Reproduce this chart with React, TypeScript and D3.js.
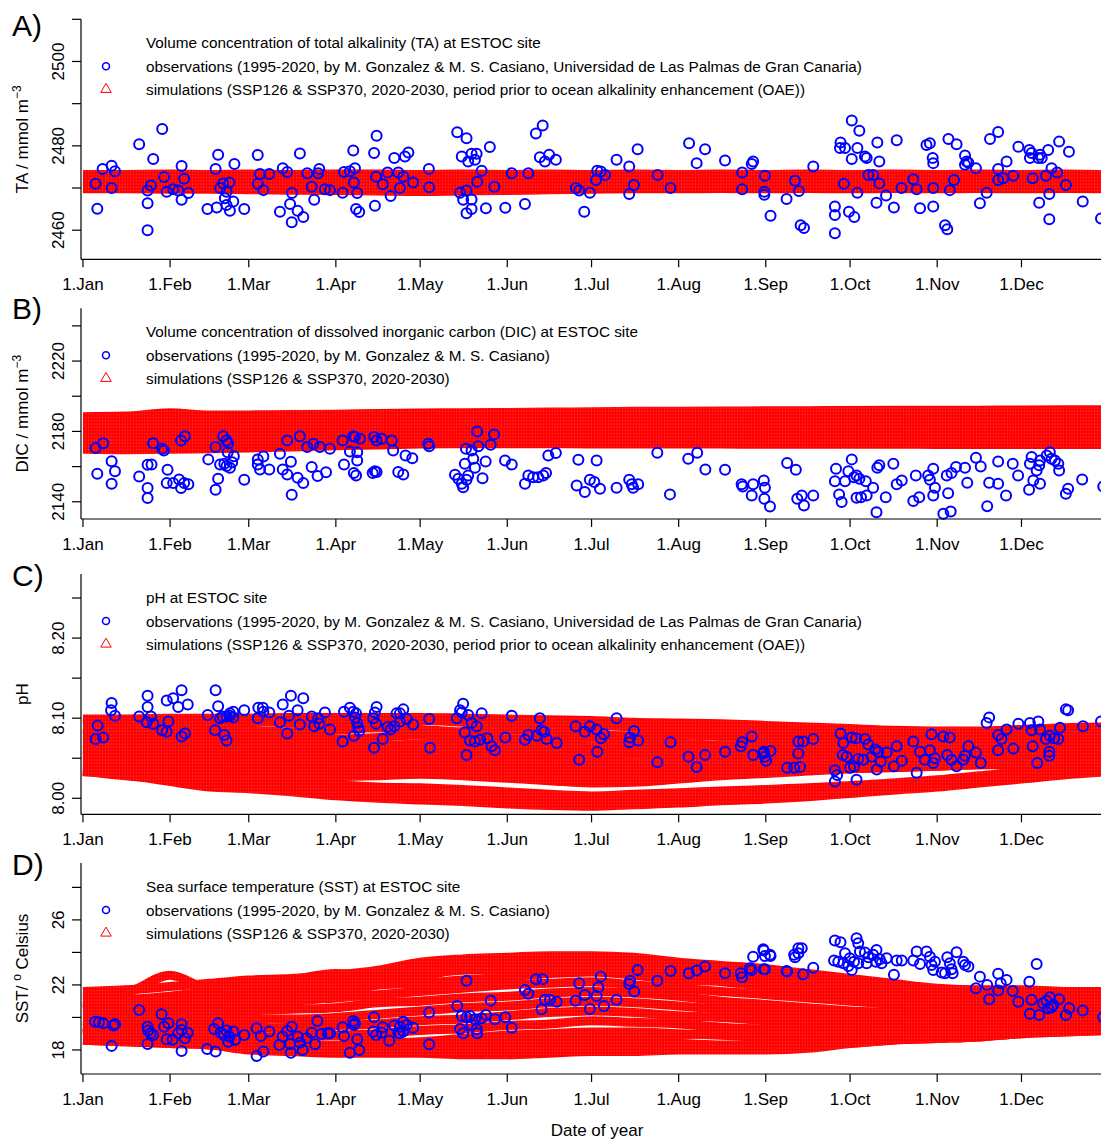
import React from "react";
import * as d3 from "d3";

const WIDTH = 1101;
const HEIGHT = 1140;
const FONT = "'Liberation Sans', Arial, Helvetica, sans-serif";
const BLUE = "#0000ff";
const RED = "#ff0000";

// Day-of-year positions of month starts and their labels
const MONTH_DAYS = [0, 31, 59, 90, 120, 151, 181, 212, 243, 273, 304, 334];
const MONTH_LABELS = ["1.Jan", "1.Feb", "1.Mar", "1.Apr", "1.May", "1.Jun", "1.Jul", "1.Aug", "1.Sep", "1.Oct", "1.Nov", "1.Dec"];

// Day-of-year nodes at which simulated tracks are sampled
const SIM_DAYS = [0, 15, 31, 45, 59, 74, 90, 105, 120, 135, 151, 166, 181, 196, 212, 227, 243, 258, 273, 288, 304, 319, 334, 349, 365];

// ---------------- A) total alkalinity ----------------
const taTicks = [2460, 2470, 2480, 2490, 2500, 2510];
const taLabels = [2460, 2480, 2500];
const taObs: number[][] = [
  [4.5,2471.0],[5.1,2465.1],[7.0,2474.5],[10.2,2475.3],[11.4,2474.0],[10.2,2470.0],[20.0,2480.4],[23.0,2469.4],[24.2,2470.6],[23.0,2466.4],[23.0,2460.0],[25.0,2476.9],[28.2,2484.0],[28.9,2472.6],[29.8,2469.1],[32.1,2469.7],[33.9,2469.4],[35.1,2475.2],[36.0,2472.2],[35.1,2467.2],[37.5,2468.8],[44.3,2465.0],[47.2,2474.5],[48.1,2477.9],[47.6,2465.4],[48.8,2470.0],[49.9,2471.1],[52.1,2471.3],[51.1,2469.1],[50.5,2467.6],[51.1,2466.0],[52.3,2464.6],[53.5,2466.8],[53.9,2475.7],[57.4,2465.0],[62.2,2477.8],[62.2,2471.0],[63.0,2473.3],[64.2,2469.5],[66.3,2473.3],[70.1,2464.4],[71.1,2474.7],[72.7,2473.8],[73.7,2466.2],[74.3,2461.9],[74.4,2468.8],[76.4,2464.6],[77.2,2478.2],[78.4,2463.1],[79.8,2473.5],[81.4,2470.3],[82.3,2467.2],[83.7,2473.5],[84.1,2474.5],[86.1,2469.7],[87.9,2469.5],[92.4,2468.9],[92.9,2473.8],[95.0,2474.0],[96.2,2478.9],[96.8,2474.7],[96.4,2471.3],[97.6,2468.8],[97.2,2465.0],[98.3,2464.3],[103.6,2478.3],[103.9,2465.8],[104.5,2482.4],[104.3,2472.7],[106.7,2470.9],[108.4,2473.7],[109.5,2468.1],[110.8,2477.1],[112.2,2473.7],
  [114.6,2477.5],[115.8,2478.4],[114.0,2472.7],[112.8,2470.0],[117.5,2471.3],[123.1,2474.5],[123.2,2470.2],[133.2,2483.2],[136.5,2481.8],[134.8,2477.5],[137.1,2476.3],[138.3,2478.1],[140.1,2478.1],[139.5,2476.7],[141.9,2474.1],[140.3,2471.5],[144.8,2479.7],[146.4,2470.3],[134.2,2468.9],[136.5,2469.4],[135.3,2467.2],[138.3,2467.3],[136.5,2464.0],[138.3,2465.0],[143.4,2465.2],[150.3,2465.3],[152.6,2473.5],[157.3,2466.2],[158.5,2473.5],[161.2,2482.9],[163.6,2484.8],[162.6,2477.3],[164.4,2476.3],[165.9,2477.9],[168.3,2476.7],[175.4,2470.0],[176.6,2469.4],[180.4,2468.9],[178.4,2464.4],[182.6,2471.9],[183.0,2474.1],[184.3,2473.9],[185.8,2473.1],[189.9,2476.7],[194.4,2475.1],[196.1,2470.7],[194.4,2468.6],[197.4,2479.2],[204.5,2473.1],[209.1,2470.0],[215.7,2480.6],[218.4,2475.9],[221.4,2479.2],[228.5,2476.5],[234.6,2473.7],[234.6,2469.7],[238.0,2475.7],[238.5,2476.3],
  [242.7,2472.9],[242.5,2469.1],[242.5,2468.4],[244.7,2463.4],[250.4,2467.4],[253.4,2471.7],[254.8,2469.3],[255.4,2461.2],[256.6,2460.5],[259.9,2475.1],[267.6,2465.6],[267.6,2463.6],[267.6,2459.3],[269.6,2480.8],[269.4,2479.5],[271.2,2479.5],[270.8,2471.0],[272.6,2464.4],[274.5,2463.1],[273.6,2486.0],[276.3,2483.6],[275.6,2479.5],[273.6,2476.9],[278.3,2477.5],[278.9,2477.1],[275.6,2468.9],[279.5,2473.1],[281.2,2473.1],[283.4,2471.1],[282.7,2480.8],[283.4,2476.3],[282.4,2466.5],[285.8,2468.2],[288.6,2465.4],[289.6,2481.3],[291.3,2470.0],[295.5,2472.1],[296.7,2469.7],[297.9,2465.2],[300.2,2480.2],[301.4,2480.6],[302.4,2477.1],[302.6,2475.9],[302.6,2470.0],[302.6,2465.6],[306.8,2461.2],[307.6,2460.2],[308.0,2481.6],[310.9,2480.4],[308.5,2469.5],[310.0,2471.9],[313.9,2477.7],[314.5,2476.3],[313.9,2475.5],[315.1,2476.0],[317.8,2474.7],[319.2,2466.4],[321.6,2468.9],[322.8,2481.6],[325.7,2483.3],[325.7,2474.5],[325.7,2471.9],[327.5,2472.3],[328.7,2476.3],[331.1,2472.9],[332.9,2479.8],[336.8,2479.0],[337.0,2477.1],[337.6,2478.3],[340.0,2477.1],[340.6,2477.9],[341.2,2477.1],[343.5,2479.0],[338.0,2472.3],[340.3,2466.5],[343.9,2468.6],[343.9,2462.6],[342.7,2472.9],[344.7,2474.7],[346.7,2473.7],[347.4,2481.0],[350.9,2478.6],[349.8,2470.7],[355.8,2466.8],[362.3,2462.8],
];
const taSim: number[][] = [
  [2473.2,2473.2,2473.3,2473.2,2473.3,2473.2,2473.3,2473.3,2473.2,2473.3,2473.2,2473.3,2473.2,2473.3,2473.2,2473.3,2473.2,2473.3,2473.2,2473.3,2473.2,2473.3,2473.2,2473.3,2473.2],
  [2472.5,2472.6,2472.5,2472.6,2472.5,2472.5,2472.6,2472.5,2472.4,2472.5,2472.5,2472.6,2472.5,2472.6,2472.5,2472.6,2472.5,2472.6,2472.5,2472.6,2472.5,2472.6,2472.5,2472.6,2472.5],
  [2471.8,2471.8,2471.9,2471.8,2471.8,2471.7,2471.8,2471.7,2471.6,2471.7,2471.8,2471.8,2471.9,2471.8,2471.9,2471.8,2471.9,2471.8,2471.9,2471.8,2471.9,2471.8,2471.9,2471.8,2471.9],
  [2471.1,2471.1,2471.2,2471.1,2471.0,2471.0,2470.9,2470.8,2470.8,2470.9,2471.0,2471.1,2471.1,2471.2,2471.1,2471.2,2471.1,2471.2,2471.1,2471.2,2471.1,2471.2,2471.1,2471.2,2471.1],
  [2470.4,2470.5,2470.4,2470.4,2470.3,2470.2,2470.1,2470.0,2470.0,2470.1,2470.2,2470.3,2470.4,2470.5,2470.4,2470.5,2470.4,2470.5,2470.5,2470.4,2470.5,2470.4,2470.5,2470.4,2470.5],
  [2470.0,2469.9,2470.0,2469.9,2469.8,2469.7,2469.6,2469.5,2469.5,2469.6,2469.7,2469.8,2469.9,2469.9,2470.0,2469.9,2470.0,2469.9,2470.0,2469.9,2470.0,2469.9,2470.0,2469.9,2470.0],
  [2469.8,2469.8,2469.7,2469.7,2469.6,2469.5,2469.4,2469.3,2469.2,2469.3,2469.4,2469.6,2469.7,2469.8,2469.8,2469.9,2469.8,2469.9,2469.8,2469.9,2469.8,2469.9,2469.8,2469.9,2469.8],
];

// ---------------- B) dissolved inorganic carbon ----------------
const dicTicks = [2140, 2160, 2180, 2200, 2220, 2240];
const dicLabels = [2140, 2180, 2220];
const dicObs: number[][] = [
  [4.5,2170.5],[7.2,2173.3],[5.1,2155.9],[10.2,2163.1],[11.4,2157.4],[10.2,2150.3],[20.0,2154.4],[23.0,2161.1],[24.4,2161.2],[23.0,2147.8],[23.0,2142.1],[25.0,2173.3],[28.2,2170.2],[28.8,2169.2],[30.1,2158.2],[29.8,2150.6],[32.1,2150.6],[34.2,2152.7],[34.9,2147.8],[36.0,2150.6],[37.5,2149.9],[34.9,2174.9],[36.3,2177.2],[44.6,2164.1],[47.2,2171.1],[48.1,2153.1],[47.2,2146.8],[48.8,2161.2],[50.3,2161.6],[51.1,2160.3],[52.3,2159.4],[53.1,2162.5],[53.7,2165.9],[49.9,2177.3],[51.1,2174.9],[51.7,2173.3],[51.5,2168.2],[57.4,2152.5],[62.2,2164.1],[62.2,2161.2],[64.2,2165.8],[63.0,2158.4],[66.3,2158.4],[70.1,2167.3],[71.1,2158.4],[72.7,2155.5],[74.0,2162.8],[74.3,2144.0],[76.4,2153.7],[78.4,2150.6],[72.7,2174.9],[77.2,2177.3],[79.8,2171.1],[81.4,2159.7],[82.0,2173.0],[83.5,2154.6],[84.3,2171.1],[86.5,2156.8],[87.9,2170.2],[92.4,2174.9],[92.9,2161.2],[95.0,2168.6],[96.2,2177.2],[96.8,2176.8],[97.6,2163.5],[97.2,2155.0],[97.6,2168.2],[98.6,2175.8],[96.4,2156.3],[103.1,2156.3],[103.9,2157.4],[104.5,2156.9],[103.6,2176.8],[104.5,2174.9],[106.3,2175.8],[109.9,2174.9],[110.4,2169.2],[112.2,2156.9],
  [114.0,2155.5],[114.8,2166.3],[117.2,2164.8],[122.9,2173.0],[123.2,2171.6],[132.4,2155.4],[133.6,2153.1],[134.8,2150.3],[135.3,2148.3],[136.5,2152.5],[137.1,2155.0],[135.9,2161.6],[136.3,2170.2],[138.3,2169.2],[138.9,2164.5],[139.5,2159.4],[140.3,2180.0],[140.7,2171.5],[142.2,2153.4],[143.3,2162.9],[145.1,2172.4],[146.3,2178.3],[150.2,2163.5],[152.6,2161.2],[157.3,2150.2],[158.5,2155.0],[160.2,2154.0],[162.0,2154.0],[163.8,2155.0],[164.8,2156.3],[165.6,2166.3],[168.3,2167.7],[175.7,2149.3],[176.3,2163.9],[178.6,2145.5],[180.4,2152.5],[182.0,2151.2],[182.8,2163.5],[184.0,2147.4],
  [189.9,2148.0],[194.4,2152.5],[195.3,2149.9],[195.8,2148.0],[197.6,2149.9],[204.4,2167.9],[208.9,2144.2],[215.4,2164.5],[218.6,2167.9],[221.5,2158.4],[228.5,2158.2],[234.4,2149.9],[234.8,2148.7],[238.0,2143.6],[238.5,2149.9],[242.3,2152.1],[242.7,2148.0],[242.5,2141.7],[244.5,2137.3],[250.6,2162.0],[253.7,2158.2],[254.2,2141.7],[255.8,2143.6],[256.6,2137.9],[259.9,2143.6],[268.0,2158.8],[267.6,2151.7],[269.1,2144.2],[270.0,2139.8],[271.2,2151.6],[273.6,2164.1],[272.4,2157.4],[274.4,2154.0],[275.3,2155.0],[276.3,2153.1],[278.6,2151.7],[275.3,2142.3],[276.9,2142.6],[278.9,2143.6],[281.2,2148.0],[282.4,2134.1],[282.7,2159.4],[283.4,2160.7],[285.7,2142.6],[288.4,2161.6],[289.6,2149.9],[291.4,2152.1],[295.5,2140.4],[297.6,2142.6],[296.4,2155.0],[300.8,2155.0],[302.6,2158.8],[301.4,2152.5],[303.2,2148.0],[302.6,2143.6],[307.4,2155.0],[309.1,2156.3],[307.9,2144.9],[306.2,2133.2],[308.8,2134.5],[310.7,2159.7],[313.9,2159.4],[314.7,2150.8],[317.8,2165.0],[319.5,2160.1],[321.8,2137.5],[322.5,2150.8],[325.7,2162.9],[325.7,2150.2],[328.5,2143.6],[330.9,2161.6],[332.8,2155.0],[337.0,2161.6],[337.6,2165.4],[338.2,2152.1],[339.4,2157.8],[340.3,2160.7],[340.6,2163.5],[343.0,2166.3],[344.1,2168.2],[344.7,2164.5],[345.9,2163.5],[347.1,2161.6],[347.4,2157.8],[336.7,2146.8],[340.6,2150.2],[349.8,2144.6],[350.6,2147.4],[355.6,2152.7],[363.1,2148.7],
];
const dicSim: number[][] = [
  [2188.4,2188.7,2190.6,2189.3,2189.4,2189.6,2189.8,2190.2,2190.5,2190.6,2190.8,2191.0,2191.2,2191.4,2191.5,2191.6,2191.7,2191.8,2191.9,2192.0,2192.1,2192.1,2192.2,2192.3,2192.4],
  [2186.3,2186.5,2186.8,2187.0,2187.2,2187.4,2187.6,2187.9,2188.1,2188.3,2188.5,2188.7,2188.9,2189.0,2189.2,2189.3,2189.4,2189.5,2189.6,2189.7,2189.8,2189.9,2190.0,2190.1,2190.2],
  [2184.0,2184.2,2184.4,2184.6,2184.9,2185.1,2185.3,2185.5,2185.8,2186.0,2186.2,2186.4,2186.6,2186.7,2186.9,2187.0,2187.1,2187.2,2187.3,2187.4,2187.5,2187.6,2187.7,2187.8,2187.9],
  [2181.7,2181.9,2182.1,2182.3,2182.5,2182.8,2183.0,2183.2,2183.5,2183.7,2183.9,2184.1,2184.3,2184.4,2184.5,2184.6,2184.7,2184.8,2184.9,2185.0,2185.1,2185.2,2185.3,2185.4,2185.5],
  [2179.4,2179.6,2179.8,2180.0,2180.2,2180.4,2180.7,2180.9,2181.1,2181.3,2181.5,2181.7,2181.9,2182.0,2182.1,2182.2,2182.3,2182.4,2182.5,2182.6,2182.7,2182.8,2182.9,2183.0,2183.1],
  [2177.2,2177.3,2177.4,2177.6,2177.8,2178.0,2178.3,2178.5,2178.7,2178.9,2179.1,2179.3,2179.5,2179.6,2179.7,2179.8,2179.9,2180.0,2180.1,2180.2,2180.3,2180.4,2180.5,2180.6,2180.7],
  [2175.0,2175.0,2175.1,2175.3,2175.5,2175.7,2176.0,2176.3,2176.5,2176.7,2176.9,2177.0,2177.1,2177.2,2177.3,2177.4,2177.4,2177.5,2177.6,2177.7,2177.8,2177.8,2177.9,2178.0,2178.1],
  [2172.6,2172.4,2172.3,2172.5,2172.8,2173.2,2173.6,2174.0,2174.4,2174.7,2174.9,2175.0,2175.1,2175.1,2175.2,2175.2,2175.3,2175.3,2175.4,2175.4,2175.5,2175.5,2175.6,2175.6,2175.7],
  [2169.8,2169.6,2169.8,2170.2,2170.6,2171.2,2171.8,2172.3,2172.8,2173.0,2173.0,2173.0,2172.9,2172.8,2172.8,2172.8,2172.7,2172.7,2172.7,2172.7,2172.6,2172.6,2172.6,2172.6,2172.6],
];

// ---------------- C) pH ----------------
const phTicks = [8.0, 8.05, 8.1, 8.15, 8.2, 8.25];
const phLabels = [8.0, 8.1, 8.2];
const phObs: number[][] = [
  [4.5,8.074],[5.2,8.091],[7.2,8.076],[10.2,8.119],[10.0,8.110],[11.4,8.103],[20.0,8.102],[23.0,8.128],[23.0,8.114],[24.2,8.102],[22.7,8.095],[25.0,8.093],[28.2,8.085],[29.8,8.083],[30.4,8.096],[29.8,8.122],[32.1,8.125],[33.9,8.114],[35.1,8.135],[37.3,8.117],[35.1,8.077],[36.3,8.081],[44.4,8.104],[47.2,8.135],[48.1,8.115],[47.0,8.085],[48.8,8.100],[50.3,8.079],[51.1,8.072],[49.7,8.102],[51.1,8.102],[52.3,8.103],[53.5,8.101],[53.5,8.108],[52.3,8.106],[57.4,8.110],[62.2,8.100],[62.4,8.113],[64.0,8.113],[64.2,8.108],[66.3,8.107],[70.1,8.095],[71.1,8.117],[72.7,8.081],[74.0,8.128],[73.3,8.103],[76.4,8.110],[78.4,8.125],[77.2,8.092],[81.4,8.102],[82.3,8.090],[83.7,8.100],[84.1,8.093],[86.1,8.107],[87.9,8.086],[92.4,8.071],[92.9,8.108],[95.0,8.113],[96.2,8.108],[96.8,8.101],[96.4,8.078],[97.6,8.094],[98.0,8.088],[98.3,8.084],[97.2,8.106],[103.6,8.063],[103.9,8.107],[103.3,8.100],[104.5,8.114],[104.3,8.093],[106.7,8.074],[108.4,8.089],[109.5,8.086],[110.8,8.090],[111.6,8.106],
  [114.0,8.111],[112.8,8.106],[115.2,8.099],[117.5,8.092],[112.8,8.096],[123.2,8.099],[123.5,8.063],[133.0,8.100],[134.2,8.110],[135.3,8.118],[134.8,8.107],[137.1,8.104],[138.3,8.094],[140.1,8.090],[141.9,8.106],[136.5,8.054],[135.9,8.082],[137.7,8.072],[139.5,8.071],[141.3,8.073],[143.9,8.075],[145.4,8.065],[146.6,8.060],[150.3,8.076],[152.6,8.103],[157.3,8.073],[158.5,8.079],[161.5,8.078],[162.6,8.100],[164.1,8.083],[165.0,8.074],[168.6,8.069],[163.2,8.085],[175.3,8.090],[176.6,8.048],[178.6,8.083],[180.4,8.090],[182.8,8.086],[184.3,8.075],[185.4,8.080],[183.0,8.058],[189.9,8.100],[194.7,8.076],[194.4,8.070],[196.1,8.084],[197.6,8.072],[204.4,8.045],[209.1,8.070],[215.5,8.052],[218.4,8.039],[221.4,8.054],[228.5,8.058],[234.6,8.070],[234.1,8.065],[238.0,8.077],[238.5,8.054],[242.3,8.058],[242.7,8.052],[243.1,8.047],[244.7,8.059],[250.6,8.038],[253.1,8.038],[254.6,8.071],[254.6,8.056],
  [242.1,8.056],[255.2,8.039],[256.3,8.071],[259.9,8.074],[267.6,8.035],[267.6,8.021],[268.4,8.029],[269.6,8.081],[270.6,8.069],[270.4,8.054],[271.8,8.052],[273.0,8.038],[273.6,8.076],[274.4,8.040],[275.3,8.023],[275.1,8.075],[275.9,8.049],[277.7,8.048],[278.3,8.074],[279.5,8.067],[280.7,8.052],[281.9,8.061],[282.5,8.036],[283.0,8.058],[283.9,8.046],[286.0,8.057],[288.6,8.040],[289.6,8.065],[291.4,8.047],[295.5,8.071],[296.7,8.032],[297.9,8.058],[299.6,8.048],[301.4,8.060],[302.0,8.080],[302.6,8.044],[303.2,8.050],[306.2,8.077],[307.6,8.054],[308.5,8.076],[309.1,8.048],[310.9,8.040],[313.3,8.048],[313.9,8.053],[315.1,8.065],[317.8,8.057],[319.5,8.044],[321.6,8.094],[322.5,8.101],[325.7,8.079],[325.7,8.060],[326.9,8.074],[328.7,8.086],[331.1,8.062],[332.9,8.093],[337.0,8.094],[337.6,8.085],[340.0,8.096],[340.6,8.086],[338.0,8.065],[339.6,8.044],[342.7,8.074],[344.1,8.078],[343.9,8.058],[343.9,8.053],[345.6,8.075],[347.1,8.074],[347.7,8.088],[349.8,8.111],[350.6,8.110],[355.9,8.090],[362.3,8.096],
];
const phSim: number[][] = [
  [8.099,8.099,8.100,8.100,8.100,8.101,8.101,8.101,8.101,8.100,8.099,8.098,8.097,8.095,8.094,8.093,8.091,8.089,8.087,8.085,8.084,8.084,8.086,8.088,8.089],
  [8.093,8.094,8.092,8.094,8.096,8.094,8.092,8.094,8.097,8.095,8.092,8.090,8.091,8.089,8.086,8.084,8.083,8.081,8.079,8.077,8.078,8.080,8.081,8.082,8.084],
  [8.086,8.084,8.086,8.088,8.085,8.083,8.085,8.088,8.086,8.083,8.085,8.084,8.080,8.078,8.079,8.077,8.074,8.072,8.071,8.072,8.073,8.073,8.075,8.077,8.078],
  [8.080,8.078,8.076,8.078,8.080,8.077,8.074,8.076,8.079,8.077,8.074,8.073,8.075,8.072,8.069,8.066,8.065,8.066,8.065,8.063,8.066,8.068,8.070,8.071,8.072],
  [8.073,8.072,8.070,8.068,8.070,8.071,8.068,8.066,8.068,8.070,8.067,8.064,8.064,8.062,8.060,8.058,8.058,8.060,8.057,8.055,8.058,8.062,8.064,8.065,8.066],
  [8.067,8.065,8.063,8.062,8.060,8.061,8.062,8.059,8.058,8.060,8.058,8.055,8.054,8.055,8.053,8.050,8.050,8.051,8.050,8.049,8.052,8.055,8.057,8.059,8.060],
  [8.061,8.058,8.056,8.055,8.053,8.051,8.052,8.051,8.049,8.050,8.049,8.047,8.045,8.044,8.045,8.043,8.042,8.044,8.045,8.043,8.046,8.049,8.051,8.053,8.054],
  [8.055,8.052,8.049,8.048,8.046,8.044,8.043,8.044,8.042,8.040,8.040,8.038,8.036,8.036,8.037,8.036,8.036,8.037,8.039,8.040,8.041,8.044,8.046,8.048,8.049],
  [8.049,8.047,8.044,8.041,8.039,8.038,8.036,8.036,8.037,8.034,8.032,8.030,8.028,8.028,8.030,8.031,8.033,8.035,8.037,8.038,8.040,8.042,8.043,8.044,8.046],
  [8.044,8.042,8.040,8.038,8.036,8.035,8.034,8.035,8.037,8.034,8.031,8.028,8.024,8.025,8.029,8.032,8.035,8.038,8.042,8.043,8.044,8.046,8.046,8.047,8.048],
  [8.040,8.036,8.033,8.031,8.029,8.027,8.027,8.028,8.030,8.028,8.025,8.022,8.019,8.020,8.024,8.028,8.031,8.034,8.037,8.039,8.040,8.042,8.042,8.043,8.044],
  [8.036,8.031,8.027,8.024,8.022,8.019,8.017,8.014,8.013,8.011,8.008,8.005,8.003,8.005,8.007,8.009,8.011,8.013,8.016,8.019,8.023,8.028,8.033,8.036,8.039],
  [8.034,8.028,8.024,8.020,8.017,8.014,8.011,8.007,8.006,8.003,8.000,7.998,7.996,7.997,7.999,8.002,8.004,8.007,8.010,8.013,8.017,8.022,8.027,8.031,8.035],
  [8.033,8.029,8.021,8.014,8.012,8.008,8.003,8.000,7.998,7.996,7.993,7.991,7.990,7.992,7.994,7.997,7.999,8.002,8.006,8.010,8.014,8.019,8.024,8.029,8.033],
];

// ---------------- D) sea surface temperature ----------------
const sstTicks = [18, 20, 22, 24, 26, 28];
const sstLabels = [18, 22, 26];
const sstObs: number[][] = [
  [4.3,19.74],[5.7,19.70],[7.2,19.64],[10.8,19.50],[11.4,19.58],[10.2,18.25],[20.0,20.46],[23.0,19.43],[23.2,19.19],[24.1,19.03],[25.0,18.92],[23.0,18.37],[28.0,20.20],[28.9,19.43],[30.4,19.64],[29.8,18.66],[31.9,18.62],[35.1,19.58],[35.1,19.23],[36.3,18.72],[37.3,19.06],[33.9,19.03],[35.1,17.94],[44.2,18.06],[47.2,17.90],[46.7,19.29],[48.1,19.64],[49.0,19.06],[50.2,18.92],[51.7,18.51],[52.1,18.82],[53.5,19.13],[54.1,18.62],[51.1,19.19],[57.4,18.92],[61.8,19.34],[63.3,18.86],[61.8,17.63],[64.2,17.90],[66.3,19.13],[69.9,18.31],[71.1,18.82],[72.7,19.17],[73.7,18.37],[74.0,17.83],[76.4,18.82],[77.2,18.45],[78.2,18.00],[79.6,18.72],[81.4,19.06],[82.6,18.35],[83.4,19.78],[84.9,18.98],[87.1,19.03],[87.9,19.03],[74.3,19.43],[92.4,19.40],[92.9,18.86],[95.0,17.83],[96.2,19.78],[96.8,19.64],[96.4,19.54],[97.6,18.66],[98.3,18.00],[103.6,20.01],[103.3,19.13],[104.3,18.92],[106.7,19.40],[109.0,18.57],[110.8,19.50],[112.2,19.06],[106.3,19.06],
  [114.0,19.74],[112.8,19.43],[115.2,19.54],[117.5,19.37],[112.8,19.03],[114.0,19.13],[123.2,20.30],[123.2,18.35],[133.2,20.71],[136.5,22.26],[134.8,20.09],[136.5,20.01],[137.7,20.09],[139.5,19.89],[141.9,19.95],[143.4,20.15],[134.2,19.29],[135.3,19.03],[140.1,19.27],[140.3,19.03],[138.3,19.54],[145.1,21.02],[146.6,19.89],[150.3,20.01],[152.6,19.37],[157.3,21.69],[158.5,21.45],[161.2,22.35],[163.6,22.35],[163.2,20.50],[164.4,21.08],[166.2,21.08],[168.6,20.97],[175.3,21.03],[176.6,22.10],[178.6,21.38],[180.4,20.52],[182.8,21.32],[183.4,21.86],[184.3,22.51],[185.4,20.71],[189.9,21.08],[194.7,22.26],[194.4,22.06],[196.2,21.59],[197.4,22.92],[204.4,22.26],[209.1,22.86],[215.6,22.72],[218.4,22.88],[221.4,23.13],[228.5,22.72],[234.1,22.72],[234.6,22.47],[238.0,22.92],[238.5,23.74],[242.3,24.11],[242.7,23.78],[244.7,23.78],[242.7,22.97],[250.6,22.82],[253.1,23.85],[254.6,24.26],
  [237.4,23.03],[242.1,24.20],[244.5,23.85],[242.3,22.97],[250.4,22.86],[253.4,23.70],[254.6,23.95],[255.8,24.26],[256.3,22.66],[259.9,23.06],[267.6,24.73],[269.6,24.63],[267.3,23.50],[268.8,23.43],[271.2,23.95],[270.6,23.34],[272.4,23.17],[273.6,22.92],[272.9,23.64],[275.3,24.87],[275.9,24.57],[276.5,24.05],[274.4,23.43],[275.9,23.34],[278.3,23.99],[278.9,23.34],[279.5,23.70],[281.2,23.85],[282.4,24.15],[282.2,23.43],[283.6,23.58],[284.2,23.34],[286.0,23.64],[288.6,22.62],[289.6,23.50],[291.4,23.50],[295.5,23.50],[296.7,24.05],[297.9,23.29],[300.2,24.05],[301.4,23.74],[302.0,23.23],[302.6,22.92],[303.2,23.43],[305.6,22.76],[306.8,22.72],[307.6,23.70],[308.5,23.34],[309.1,22.97],[310.9,24.01],[313.3,23.43],[313.9,23.23],[315.1,23.13],[309.5,22.72],[317.8,21.80],[319.2,22.51],[321.8,22.00],[322.5,21.12],[325.7,22.68],[325.7,21.65],[326.6,22.10],[328.7,22.31],[330.9,21.63],[332.9,20.97],[336.8,22.20],[337.6,21.08],[339.4,23.29],[337.0,20.22],[340.3,20.15],[341.7,20.87],[342.9,21.03],[344.1,21.24],[345.3,20.77],[347.4,21.12],[349.8,20.15],[351.0,20.57],[355.8,20.42],[363.1,20.01],[343.5,20.57],[344.7,20.63],
];
const sstSim: number[][] = [
  [21.6,21.7,21.9,22.1,22.3,22.4,22.6,22.9,23.4,23.6,23.7,23.8,23.8,23.7,23.4,23.2,23.0,22.7,22.4,22.1,21.8,21.7,21.7,21.6,21.6],
  [21.3,21.5,22.6,21.8,22.0,22.3,22.7,22.6,22.9,23.3,23.4,23.5,23.4,23.5,23.3,22.9,22.6,22.3,22.1,21.9,21.6,21.4,21.3,21.4,21.3],
  [21.0,21.1,21.3,21.6,21.8,22.1,22.3,22.4,22.7,22.9,23.0,23.2,23.3,23.1,22.8,22.6,22.3,22.0,21.7,21.4,21.2,21.2,21.1,21.0,21.0],
  [20.7,20.8,20.9,21.1,21.3,21.6,21.8,22.0,22.1,22.3,22.5,22.7,22.8,22.6,22.3,22.2,21.9,21.6,21.3,21.0,20.8,20.9,20.8,20.8,20.7],
  [20.4,20.4,20.5,20.7,20.9,21.0,21.2,21.4,21.6,21.8,22.0,22.1,22.2,22.0,21.8,21.6,21.4,21.2,21.0,20.8,20.6,20.5,20.5,20.5,20.4],
  [20.1,20.1,20.0,20.2,20.4,20.5,20.6,20.9,21.0,21.2,21.3,21.5,21.6,21.5,21.3,21.0,20.8,20.6,20.4,20.3,20.2,20.2,20.2,20.2,20.2],
  [19.8,19.7,19.7,19.8,19.9,19.9,20.0,20.2,20.4,20.6,20.7,20.9,21.0,20.9,20.7,20.5,20.3,20.1,20.0,19.9,19.9,19.9,19.9,19.9,19.9],
  [19.5,19.4,19.3,19.3,19.3,19.4,19.5,19.6,19.8,19.9,20.1,20.3,20.4,20.3,20.1,20.0,19.8,19.7,19.6,19.6,19.6,19.6,19.6,19.6,19.6],
  [19.2,19.1,19.0,18.9,18.8,18.8,18.9,19.0,19.2,19.3,19.5,19.6,19.8,19.7,19.6,19.4,19.3,19.3,19.2,19.2,19.3,19.3,19.3,19.4,19.4],
  [18.9,18.8,18.6,18.5,18.4,18.3,18.3,18.4,18.5,18.7,18.9,19.0,19.1,19.1,19.0,18.9,18.8,18.8,18.8,18.9,19.0,19.0,19.1,19.2,19.3],
  [18.6,18.5,18.4,18.3,18.1,18.0,17.9,17.9,17.9,18.0,18.2,18.3,18.4,18.4,18.4,18.3,18.3,18.3,18.4,18.6,18.7,18.8,19.0,19.1,19.2],
  [18.6,18.5,18.4,18.3,18.0,17.9,17.8,17.8,17.8,17.7,17.7,17.8,17.9,17.9,18.0,18.0,18.0,18.1,18.4,18.6,18.7,18.8,19.0,19.1,19.2],
  [19.0,19.4,19.8,20.3,20.8,21.2,21.5,22.0,22.5,23.0,23.4,23.6,23.7,23.5,23.2,22.9,22.6,22.2,21.9,21.6,21.3,21.0,20.8,20.5,20.3],
  [20.9,20.6,20.2,19.9,19.5,19.2,18.9,18.6,18.4,18.3,18.5,18.6,18.7,18.8,18.9,19.1,19.2,19.4,19.6,19.8,20.0,20.3,20.5,20.8,21.0],
];

const OBS_LONG = "observations (1995-2020, by M. Gonzalez & M. S. Casiano, Universidad de Las Palmas de Gran Canaria)";
const OBS_SHORT = "observations (1995-2020, by M. Gonzalez & M. S. Casiano)";
const SIM_LONG = "simulations (SSP126 & SSP370, 2020-2030, period prior to ocean alkalinity enhancement (OAE))";
const SIM_SHORT = "simulations (SSP126 & SSP370, 2020-2030)";

type PanelSpec = {
  id: string;
  letter: string;
  letterBaseline: number;
  top: number;
  bottom: number;
  domain: [number, number];
  ticks: number[];
  labels: number[];
  decimals: number;
  yTitle: "ta" | "dic" | "ph" | "sst";
  title: string;
  obsText: string;
  simText: string;
  obs: number[][];
  sim: number[][];
};

const panels: PanelSpec[] = [
  { id: "a", letter: "A)", letterBaseline: 36, top: 19.3, bottom: 259.3, domain: [2453.1, 2510], ticks: taTicks, labels: taLabels, decimals: 0, yTitle: "ta",
    title: "Volume concentration of total alkalinity (TA) at ESTOC site", obsText: OBS_LONG, simText: SIM_LONG, obs: taObs, sim: taSim },
  { id: "b", letter: "B)", letterBaseline: 319, top: 308.3, bottom: 519, domain: [2130.2, 2250], ticks: dicTicks, labels: dicLabels, decimals: 0, yTitle: "dic",
    title: "Volume concentration of dissolved inorganic carbon (DIC) at ESTOC site", obsText: OBS_SHORT, simText: SIM_SHORT, obs: dicObs, sim: dicSim },
  { id: "c", letter: "C)", letterBaseline: 586, top: 574, bottom: 814.3, domain: [7.98, 8.28], ticks: phTicks, labels: phLabels, decimals: 2, yTitle: "ph",
    title: "pH at ESTOC site", obsText: OBS_LONG, simText: SIM_LONG, obs: phObs, sim: phSim },
  { id: "d", letter: "D)", letterBaseline: 875, top: 863, bottom: 1074, domain: [16.52, 29.5], ticks: sstTicks, labels: sstLabels, decimals: 0, yTitle: "sst",
    title: "Sea surface temperature (SST) at ESTOC site", obsText: OBS_SHORT, simText: SIM_SHORT, obs: sstObs, sim: sstSim },
];

const PLOT_LEFT = 81;
const x = d3.scaleLinear().domain([-0.7, 362.3]).range([PLOT_LEFT, WIDTH]);

function YTitle({ kind, cx, cy }: { kind: PanelSpec["yTitle"]; cx: number; cy: number }) {
  const common = { transform: `translate(${cx},${cy}) rotate(-90)`, textAnchor: "middle" as const, fontSize: 17, fontFamily: FONT, fill: "#000" };
  if (kind === "ph") return <text {...common}>pH</text>;
  if (kind === "sst")
    return (
      <text {...common}>
        SST/ <tspan dy={-7} fontSize={12}>o</tspan>
        <tspan dy={7}> Celsius</tspan>
      </text>
    );
  const name = kind === "ta" ? "TA" : "DIC";
  return (
    <text {...common}>
      {name} / mmol m<tspan dy={-7} fontSize={12}>−3</tspan>
    </text>
  );
}

function Panel({ p }: { p: PanelSpec }) {
  const y = d3.scaleLinear().domain(p.domain).range([p.bottom, p.top]);
  const line = d3
    .line<number>()
    .x((_, i) => x(SIM_DAYS[i]))
    .y((v) => y(v))
    .curve(d3.curveMonotoneX);
  const fmt = d3.format(`.${p.decimals}f`);
  const legendX = 146;
  const symX = 106;
  const rows = [p.top + 29, p.top + 52.5, p.top + 76];
  const triH = 9;
  const triW = 10.5;
  const triCy = rows[2] - 6.5;
  const legendSize = 15.3;
  return (
    <g>
      <defs>
        <clipPath id={`clip-${p.id}`}>
          <rect x={PLOT_LEFT} y={p.top} width={WIDTH - PLOT_LEFT} height={p.bottom - p.top} />
        </clipPath>
      </defs>
      {/* simulated trajectories */}
      <g clipPath={`url(#clip-${p.id})`}>
        {p.sim.map((track, i) => (
          <path key={i} d={line(track) ?? ""} fill="none" stroke="url(#simTexture)" strokeWidth={9} />
        ))}
      </g>
      {/* observations */}
      <g>
        {p.obs.map(([d, v], i) => (
          <circle key={i} cx={x(d)} cy={y(v)} r={5} fill="none" stroke={BLUE} strokeWidth={2} />
        ))}
      </g>
      {/* axes */}
      <line x1={PLOT_LEFT} x2={WIDTH} y1={p.bottom} y2={p.bottom} stroke="#000" strokeWidth={1.2} />
      <line x1={PLOT_LEFT} x2={PLOT_LEFT} y1={p.top} y2={p.bottom} stroke="#000" strokeWidth={1.2} />
      {MONTH_DAYS.map((d, i) => (
        <g key={d}>
          <line x1={x(d)} x2={x(d)} y1={p.bottom} y2={p.bottom + 8} stroke="#000" strokeWidth={1.2} />
          <text x={x(d)} y={p.bottom + 31} textAnchor="middle" fontSize={17} fontFamily={FONT}>
            {MONTH_LABELS[i]}
          </text>
        </g>
      ))}
      {p.ticks.map((t) => (
        <line key={t} x1={PLOT_LEFT - 9} x2={PLOT_LEFT} y1={y(t)} y2={y(t)} stroke="#000" strokeWidth={1.2} />
      ))}
      {p.labels.map((t) => (
        <text key={t} transform={`translate(63.5,${y(t)}) rotate(-90)`} textAnchor="middle" fontSize={17} fontFamily={FONT}>
          {fmt(t)}
        </text>
      ))}
      <YTitle kind={p.yTitle} cx={28} cy={(p.top + p.bottom) / 2} />
      {/* panel letter */}
      <text x={12} y={p.letterBaseline} fontSize={30} fontFamily={FONT}>
        {p.letter}
      </text>
      {/* legend */}
      <text x={legendX} y={rows[0]} fontSize={legendSize} fontFamily={FONT}>{p.title}</text>
      <circle cx={symX} cy={rows[1] - 5.5} r={3.5} fill="none" stroke={BLUE} strokeWidth={1.6} />
      <text x={legendX} y={rows[1]} fontSize={legendSize} fontFamily={FONT}>{p.obsText}</text>
      <path
        d={`M${symX},${triCy - triH * 0.6}L${symX + triW / 2},${triCy + triH * 0.4}L${symX - triW / 2},${triCy + triH * 0.4}Z`}
        fill="none"
        stroke={RED}
        strokeWidth={1}
      />
      <text x={legendX} y={rows[2]} fontSize={legendSize} fontFamily={FONT}>{p.simText}</text>
    </g>
  );
}

export default function App() {
  return (
    <svg
      width={WIDTH}
      height={HEIGHT}
      viewBox={`0 0 ${WIDTH} ${HEIGHT}`}
      style={{ position: "absolute", left: 0, top: 0, background: "#fff" }}
    >
      <defs>
        <pattern id="simTexture" patternUnits="userSpaceOnUse" width={2.81} height={3.2}>
          <rect width={2.81} height={3.2} fill={RED} />
          <circle cx={1.4} cy={1.6} r={0.45} fill="#fff" opacity={0.55} />
        </pattern>
      </defs>
      <rect width={WIDTH} height={HEIGHT} fill="#fff" />
      {panels.map((p) => (
        <Panel key={p.id} p={p} />
      ))}
      <text x={597} y={1136} textAnchor="middle" fontSize={17} fontFamily={FONT}>
        Date of year
      </text>
    </svg>
  );
}
